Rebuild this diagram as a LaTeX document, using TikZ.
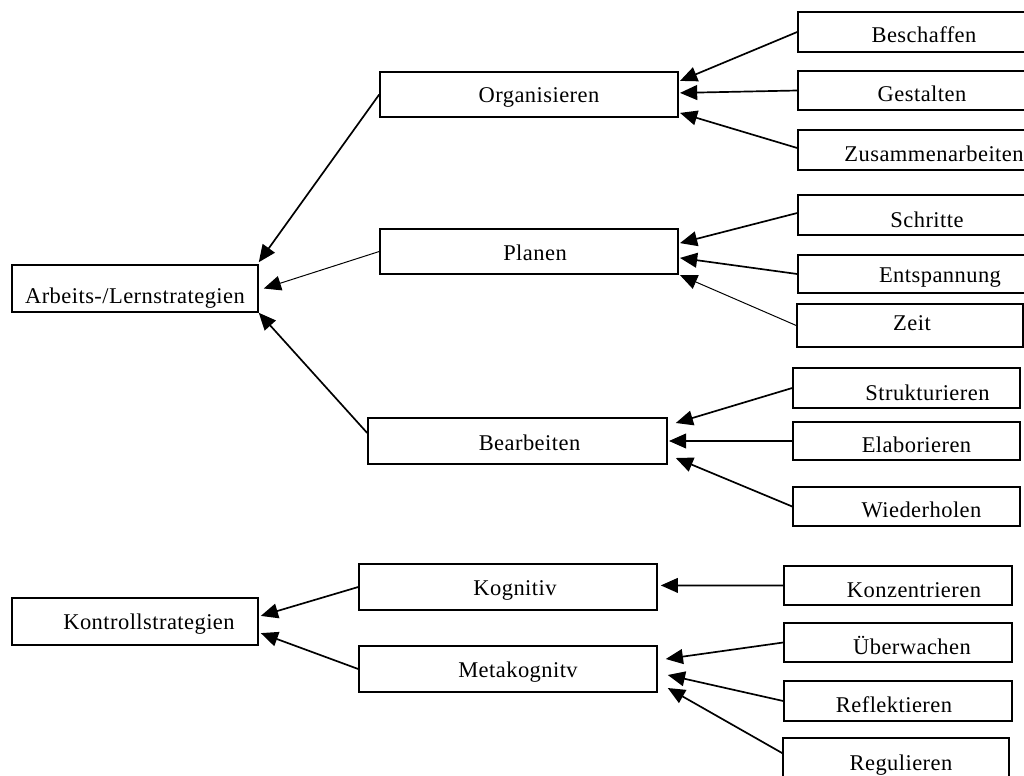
\documentclass[tikz,border=0pt]{standalone}
\usepackage{fontspec}
\setmainfont{Liberation Serif}[LetterSpace=2]
\usetikzlibrary{arrows.meta}

\begin{document}
\begin{tikzpicture}[
    box/.style={draw, line width=1.1pt, inner sep=0pt, anchor=base,
      font=\fontsize{16}{18}\selectfont},
    pfeil/.style={line width=1.2pt, -{Triangle[length=0.43cm, width=0.37cm]}},
    duenn/.style={pfeil, line width=0.7pt}
  ]
        % Paso 1: Fija el marco del dibujo
        \useasboundingbox (0,0) rectangle (25.6,-19.4);

        % Paso 2: Cajas de la izquierda
        \node[box, minimum width=6.15cm, text height=0.95cm, text depth=0.225cm]
          (arbeits) at (3.375,-7.575) {Arbeits-/Lernstrategien};
        \node[box, minimum width=6.15cm, text height=0.775cm, text depth=0.4cm]
          (kontroll) at (3.375,-15.725) {\hspace*{0.7cm}Kontrollstrategien};

        % Paso 3: Cajas del medio
        \node[box, minimum width=7.45cm, text height=0.775cm, text depth=0.35cm]
          (orga) at (13.225,-2.575) {\hspace*{0.5cm}Organisieren};
        \node[box, minimum width=7.45cm, text height=0.775cm, text depth=0.35cm]
          (planen) at (13.225,-6.5) {\hspace*{0.3cm}Planen};
        \node[box, minimum width=7.475cm, text height=0.8cm, text depth=0.35cm]
          (bearb) at (12.9375,-11.25) {\hspace*{0.6cm}Bearbeiten};
        \node[box, minimum width=7.45cm, text height=0.775cm, text depth=0.375cm]
          (kogn) at (12.7,-14.875) {\hspace*{0.35cm}Kognitiv};
        \node[box, minimum width=7.45cm, text height=0.775cm, text depth=0.375cm]
          (meta) at (12.7,-16.925) {\hspace*{0.5cm}Metakognitv};

        % Paso 4: Cajas de la derecha
        \node[box, minimum width=5.8cm, text height=0.775cm, text depth=0.225cm]
          (besch) at (22.85,-1.075) {\hspace*{0.5cm}Beschaffen};
        \node[box, minimum width=5.8cm, text height=0.775cm, text depth=0.2cm]
          (gest) at (22.85,-2.55) {\hspace*{0.4cm}Gestalten};
        \node[box, minimum width=5.8cm, text height=0.775cm, text depth=0.225cm]
          (zus) at (22.85,-4.025) {\hspace*{1cm}Zusammenarbeiten};
        \node[box, minimum width=5.8cm, text height=0.8cm, text depth=0.2cm]
          (schritte) at (22.85,-5.675) {\hspace*{0.65cm}Schritte};
        \node[box, minimum width=5.8cm, text height=0.675cm, text depth=0.275cm]
          (entsp) at (22.85,-7.05) {\hspace*{1.3cm}Entspannung};
        \node[box, minimum width=5.65cm, text height=0.65cm, text depth=0.425cm]
          (zeit) at (22.75,-8.25) {\hspace*{0.1cm}Zeit};
        \node[box, minimum width=5.675cm, text height=0.8cm, text depth=0.2cm]
          (struk) at (22.6625,-10.0) {\hspace*{1.05cm}Strukturieren};
        \node[box, minimum width=5.675cm, text height=0.75cm, text depth=0.2cm]
          (elab) at (22.6625,-11.3) {\hspace*{0.5cm}Elaborieren};
        \node[box, minimum width=5.675cm, text height=0.75cm, text depth=0.225cm]
          (wieder) at (22.6625,-12.925) {\hspace*{0.75cm}Wiederholen};
        \node[box, minimum width=5.7cm, text height=0.775cm, text depth=0.2cm]
          (konz) at (22.45,-14.925) {\hspace*{0.8cm}Konzentrieren};
        \node[box, minimum width=5.7cm, text height=0.775cm, text depth=0.2cm]
          (ueber) at (22.45,-16.35) {\hspace*{0.7cm}Überwachen};
        \node[box, minimum width=5.7cm, text height=0.775cm, text depth=0.225cm]
          (refl) at (22.45,-17.8) {Reflektieren\hspace*{0.2cm}};
        \node[box, minimum width=5.65cm, text height=0.8cm, text depth=0.375cm]
          (regul) at (22.4,-19.25) {\hspace*{0.25cm}Regulieren};

        % Paso 5: Flechas hacia Arbeits-/Lernstrategien
        \draw[pfeil] (orga.west) -- ([yshift=0.05cm]arbeits.north east);
        \draw[duenn] (planen.west) -- ([xshift=0.125cm]arbeits.east);
        \draw[pfeil] ([yshift=0.2cm]bearb.west) -- (arbeits.south east);

        % Paso 6: Flechas hacia las cajas del medio
        \draw[pfeil] (besch.west) -- ([xshift=0.03cm, yshift=0.34cm]orga.east);
        \draw[pfeil] (gest.west) -- ([xshift=0.03cm, yshift=0.04cm]orga.east);
        \draw[pfeil] ([yshift=0.05cm]zus.west) -- ([xshift=0.03cm, yshift=-0.46cm]orga.east);
        \draw[pfeil] ([yshift=0.05cm]schritte.west) -- ([xshift=0.03cm, yshift=0.21cm]planen.east);
        \draw[pfeil] (entsp.west) -- ([xshift=0.03cm, yshift=-0.16cm]planen.east);
        \draw[duenn] (zeit.west) -- ([xshift=0.03cm, yshift=-0.59cm]planen.east);
        \draw[pfeil] (struk.west) -- ([xshift=0.2cm, yshift=0.45cm]bearb.east);
        \draw[pfeil] (elab.west) -- ([xshift=0.03cm]bearb.east);
        \draw[pfeil] (wieder.west) -- ([xshift=0.2cm, yshift=-0.425cm]bearb.east);

        % Paso 7: Flechas de Kontrollstrategien
        \draw[pfeil] (kogn.west) -- ([xshift=0.05cm, yshift=0.14cm]kontroll.east);
        \draw[pfeil] (meta.west) -- ([xshift=0.05cm, yshift=-0.29cm]kontroll.east);
        \draw[pfeil] (konz.west) -- ([xshift=0.075cm, yshift=0.04cm]kogn.east);
        \draw[pfeil] (ueber.west) -- ([xshift=0.2cm, yshift=0.25cm]meta.east);
        \draw[pfeil] (refl.west) -- ([xshift=0.25cm, yshift=-0.15cm]meta.east);
        \draw[pfeil] ([yshift=0.21cm]regul.west) -- ([xshift=0.25cm, yshift=-0.475cm]meta.east);
\end{tikzpicture}
\end{document}
